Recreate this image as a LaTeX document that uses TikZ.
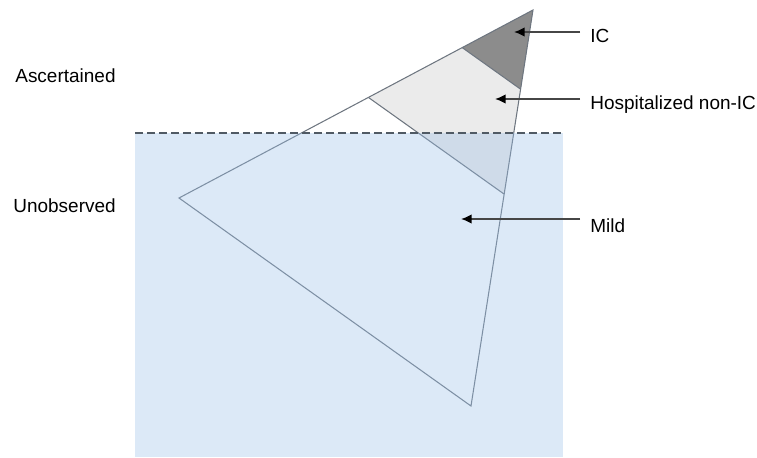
\documentclass[tikz,border=0pt]{standalone}
\usepackage{fontspec}
\setmainfont{Liberation Sans}
\usetikzlibrary{calc,arrows.meta}
\definecolor{icgray}{RGB}{140,140,140}
\definecolor{hospgray}{RGB}{235,235,235}
\definecolor{unobsblue}{RGB}{155,192,232}
\definecolor{edgegray}{RGB}{110,118,128}
\tikzset{
    lbl/.style={anchor=base west, inner sep=0pt, font=\fontsize{10.8pt}{13pt}\selectfont},
    pointer/.style={-{Latex[length=6pt,width=5.4pt,color=black]}, line width=1pt, draw={rgb,255:red,70;green,70;blue,70}},
    edge/.style={draw=edgegray, line width=0.6pt}
}
\begin{document}
\begin{tikzpicture}
    \useasboundingbox (0,0) rectangle (15.14,9.14);
    \coordinate (A) at (10.66,8.94);
    \coordinate (L) at (3.58,5.18);
    \coordinate (B) at (9.42,1.02);
    \coordinate (icL) at ($(A)!0.2!(L)$);
    \coordinate (icB) at ($(A)!0.2!(B)$);
    \coordinate (hoL) at ($(A)!0.465!(L)$);
    \coordinate (hoB) at ($(A)!0.465!(B)$);
    \fill[icgray] (A) -- (icL) -- (icB) -- cycle;
    \fill[hospgray] (icL) -- (hoL) -- (hoB) -- (icB) -- cycle;
    \draw[edge] (A) -- (L) -- (B) -- cycle;
    \draw[edge] (icL) -- (icB);
    \draw[edge] (hoL) -- (hoB);
    \fill[unobsblue, fill opacity=0.35] (2.70,0) rectangle (11.26,6.48);
    \draw[dashed, dash pattern=on 4.5pt off 2.3pt, line width=0.9pt, draw={rgb,255:red,80;green,90;blue,100}] (2.70,6.48) coordinate (dl) -- (11.26,6.48) coordinate (dr);
    \node[lbl] (asc) at (0.30,7.50) {Ascertained};
    \node[lbl] (unobs) at (0.26,4.88) {Unobserved};
    \node[lbl] (ic) at (11.80,8.28) {IC};
    \node[lbl] (hosp) at (11.80,6.96) {Hospitalized non-IC};
    \node[lbl] (mild) at (11.80,4.50) {Mild};
    \coordinate (icT) at (11.60,8.50);
    \coordinate (hospT) at (11.60,7.16);
    \coordinate (mildT) at (11.60,4.76);
    \coordinate (icH) at (10.28,8.50);
    \coordinate (hospH) at (9.90,7.16);
    \coordinate (mildH) at (9.22,4.76);
    \draw[pointer] (icT) -- (icH);
    \draw[pointer] (hospT) -- (hospH);
    \draw[pointer] (mildT) -- (mildH);
\end{tikzpicture}
\end{document}
